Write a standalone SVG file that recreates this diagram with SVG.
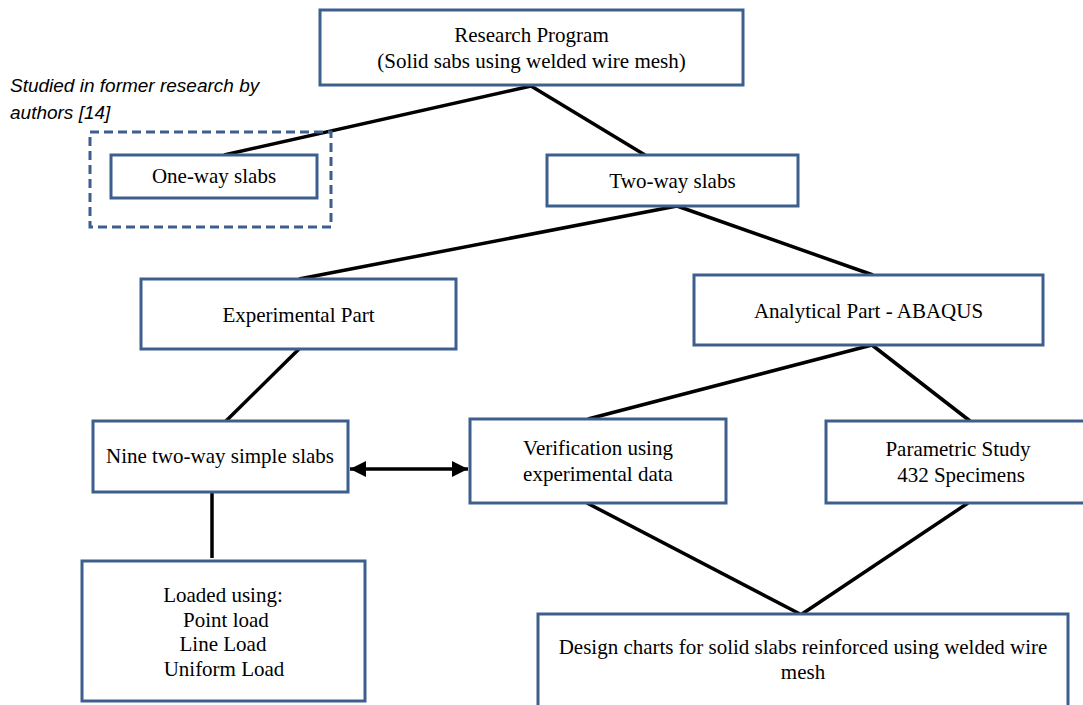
<svg xmlns="http://www.w3.org/2000/svg" width="1083" height="705" viewBox="0 0 1083 705">
<style>
.box{fill:#fff;stroke:#3c5f8e;stroke-width:3}
.dash{fill:none;stroke:#3c5f8e;stroke-width:3;stroke-dasharray:9 5}
.t{font-family:"Liberation Serif","Times New Roman",serif;font-size:21px;fill:#000;text-anchor:middle}
.note{font-family:"Liberation Sans",Arial,sans-serif;font-style:italic;font-size:19px;fill:#000}
.ln{stroke:#000;stroke-width:3.5;fill:none}
</style>
<defs>
<marker id="ah" viewBox="0 0 10 10" refX="10" refY="5" markerWidth="4.6" markerHeight="4.6" orient="auto-start-reverse" markerUnits="strokeWidth">
<path d="M0,0 L10,5 L0,10 z" fill="#000"/>
</marker>
</defs>
<rect width="1083" height="705" fill="#fff"/>
<g id="connectors">
<line class="ln" x1="531" y1="86" x2="224" y2="155"/>
<line class="ln" x1="531" y1="86" x2="645" y2="155"/>
<line class="ln" x1="677" y1="206" x2="299" y2="279"/>
<line class="ln" x1="677" y1="206" x2="873" y2="275"/>
<line class="ln" x1="299" y1="349" x2="226" y2="421"/>
<line class="ln" x1="872" y1="345" x2="588" y2="419"/>
<line class="ln" x1="872" y1="345" x2="970" y2="421"/>
<line class="ln" x1="212" y1="492" x2="212" y2="558"/>
<line class="ln" x1="587" y1="503" x2="800" y2="614"/>
<line class="ln" x1="968" y1="503" x2="802" y2="614"/>
<line class="ln" x1="350" y1="469" x2="468" y2="469" marker-start="url(#ah)" marker-end="url(#ah)"/>
</g>
<g id="note">
<text class="note" x="10" y="92">Studied in former research by</text>
<text class="note" x="10" y="119">authors [14]</text>
<rect class="dash" x="90" y="132" width="241" height="95"/>
</g>
<g id="research">
<rect class="box" x="320" y="10" width="423" height="75"/>
<text class="t" x="531.5" y="42">Research Program</text>
<text class="t" x="531.5" y="68">(Solid sabs using welded wire mesh)</text>
</g>
<g id="oneway">
<rect class="box" x="111" y="155" width="206" height="43"/>
<text class="t" x="214" y="183">One-way slabs</text>
</g>
<g id="twoway">
<rect class="box" x="547" y="155" width="251" height="51"/>
<text class="t" x="672.5" y="188">Two-way slabs</text>
</g>
<g id="experimental">
<rect class="box" x="141" y="279" width="315" height="70"/>
<text class="t" x="298.5" y="322">Experimental Part</text>
</g>
<g id="analytical">
<rect class="box" x="694" y="275" width="349" height="70"/>
<text class="t" x="868.5" y="318">Analytical Part - ABAQUS</text>
</g>
<g id="nine">
<rect class="box" x="93" y="421" width="255" height="71"/>
<text class="t" x="220" y="463">Nine two-way simple slabs</text>
</g>
<g id="verification">
<rect class="box" x="470" y="419" width="256" height="84"/>
<text class="t" x="598" y="455">Verification using</text>
<text class="t" x="598" y="481">experimental data</text>
</g>
<g id="parametric">
<rect class="box" x="826" y="421" width="264" height="82"/>
<text class="t" x="958" y="456">Parametric Study</text>
<text class="t" x="961" y="482">432 Specimens</text>
</g>
<g id="loaded">
<rect class="box" x="82" y="561" width="283" height="140"/>
<text class="t" x="223" y="602">Loaded using:</text>
<text class="t" x="226" y="627">Point load</text>
<text class="t" x="223" y="651">Line Load</text>
<text class="t" x="224" y="676">Uniform Load</text>
</g>
<g id="design">
<rect class="box" x="538" y="614" width="530" height="96"/>
<text class="t" x="803" y="654">Design charts for solid slabs reinforced using welded wire</text>
<text class="t" x="803" y="679">mesh</text>
</g>
</svg>
